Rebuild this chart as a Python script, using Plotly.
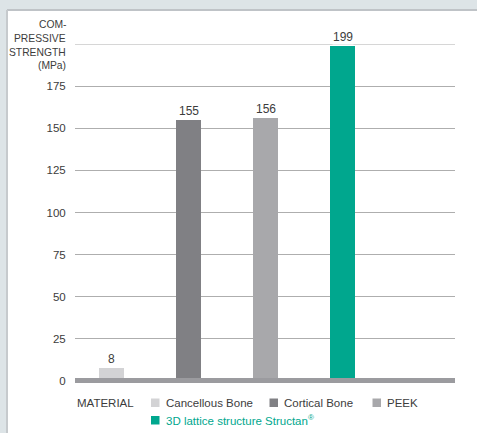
import plotly.graph_objects as go

# ---- data ----
categories = ["Cancellous Bone", "Cortical Bone", "PEEK", "3D lattice structure Structan<sup>®</sup>"]
strength = [8, 155, 156, 199]
bar_colors = ["#d3d3d5", "#808084", "#a8a8ab", "#00a78e"]
ytick_vals = [0, 25, 50, 75, 100, 125, 150, 175]
ytop = 200
title_lines = ["COM-", "PRESSIVE", "STRENGTH", "(MPa)"]
legend_title = "MATERIAL"

# ---- layout geometry (pixels) ----
WIDTH, HEIGHT = 477, 433
L, R, T, B = 75, 22, 44, 52
PW = WIDTH - L - R
PH = HEIGHT - T - B

def px(x):
    return (x - L) / PW

def py(y):
    return (HEIGHT - B - y) / PH

FONT = "Liberation Sans"
TXT = "#3c3c3c"

fig = go.Figure()
fig.add_trace(go.Bar(
    x=categories, y=strength,
    marker=dict(color=bar_colors, line=dict(width=0)),
    width=0.325, showlegend=False, hoverinfo="x+y",
))

shapes = []
# light background panel
shapes.append(dict(type="rect", xref="paper", yref="paper", layer="below",
                   x0=px(7), x1=px(WIDTH + 5), y0=py(HEIGHT + 5), y1=py(10),
                   fillcolor="white", line=dict(width=0)))
shapes.append(dict(type="line", xref="paper", yref="paper", layer="below",
                   x0=px(7), x1=px(WIDTH + 5), y0=py(10), y1=py(10),
                   line=dict(color="#bfc3c7", width=2)))
shapes.append(dict(type="line", xref="paper", yref="paper", layer="below",
                   x0=px(7), x1=px(7), y0=py(HEIGHT + 5), y1=py(10),
                   line=dict(color="#c6cacd", width=2)))
# top gridline (row of the axis title)
shapes.append(dict(type="line", xref="paper", yref="y", layer="below",
                   x0=0, x1=1, y0=ytop, y1=ytop,
                   line=dict(color="#aeaeae", width=1)))
# thick baseline bar
shapes.append(dict(type="rect", xref="paper", yref="paper", layer="above",
                   x0=0, x1=1, y0=py(383), y1=py(378),
                   fillcolor="#9b9b9f", line=dict(width=0)))

annotations = []
# y-axis title lines
title_y = [25, 38.5, 52, 65.5]
for line, yy in zip(title_lines, title_y):
    annotations.append(dict(xref="paper", yref="paper", x=px(67.5), y=py(yy),
                            xanchor="right", yanchor="middle", showarrow=False,
                            text=line, font=dict(family=FONT, size=10.3, color=TXT)))
# value labels
for cat, v in zip(categories, strength):
    annotations.append(dict(x=cat, y=v, xref="x", yref="y", yanchor="bottom",
                            yshift=1, showarrow=False, text=str(v), bgcolor="white",
                            borderpad=0,
                            font=dict(family=FONT, size=12, color=TXT)))

# manual legend
annotations.append(dict(xref="paper", yref="paper", x=px(75), y=py(402.5),
                        xanchor="left", yanchor="middle", showarrow=False,
                        text=legend_title, font=dict(family=FONT, size=11.5, color=TXT)))
leg_pos = [(151, 402.5), (269.5, 402.5), (372.5, 402.5), (151, 420)]
for cat, col, (lx, ly) in zip(categories, bar_colors, leg_pos):
    shapes.append(dict(type="rect", xref="paper", yref="paper",
                       x0=px(lx), x1=px(lx + 8.5), y0=py(ly + 4.5), y1=py(ly - 4),
                       fillcolor=col, line=dict(width=0)))
    tcol = "#00a78e" if col == "#00a78e" else TXT
    annotations.append(dict(xref="paper", yref="paper", x=px(lx + 12.5), y=py(ly),
                            xanchor="left", yanchor="middle", showarrow=False,
                            text=cat, font=dict(family=FONT, size=11.5, color=tcol)))

fig.update_layout(
    width=WIDTH, height=HEIGHT,
    margin=dict(l=L, r=R, t=T, b=B, pad=0),
    paper_bgcolor="#dde4e7",
    plot_bgcolor="rgba(0,0,0,0)",
    shapes=shapes, annotations=annotations,
    bargap=0,
    xaxis=dict(range=[-0.474, 4.461], showticklabels=False, showgrid=False,
               zeroline=False, showline=False, fixedrange=True),
    yaxis=dict(range=[0, ytop], tickvals=ytick_vals,
               ticktext=[str(v) for v in ytick_vals],
               showgrid=True, gridcolor="#aeaeae", gridwidth=1,
               zeroline=False, showline=False,
               ticks="outside", ticklen=6, tickcolor="rgba(0,0,0,0)",
               tickfont=dict(family=FONT, size=11.5, color=TXT), fixedrange=True),
    showlegend=False,
)

fig.write_html("out.html", config={"displayModeBar": False},
               post_script="document.body.style.margin='0px';document.body.style.overflow='hidden';")
